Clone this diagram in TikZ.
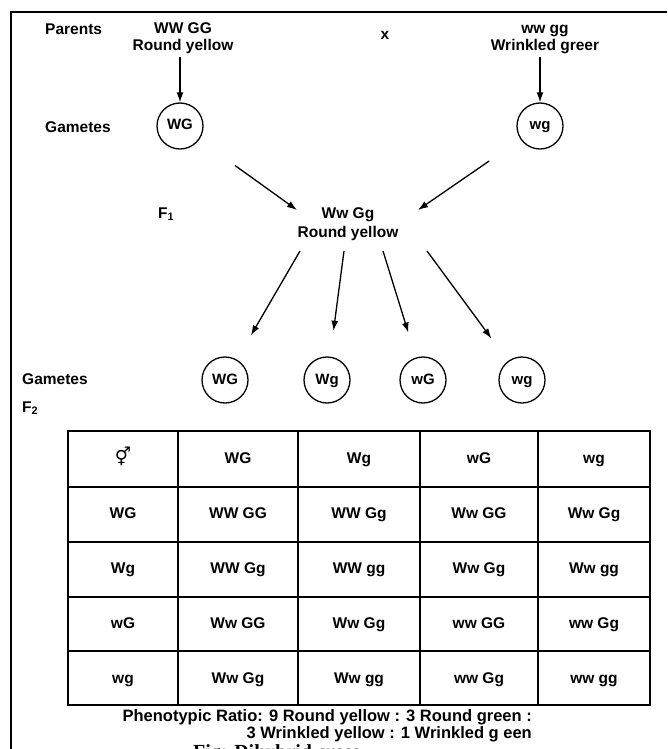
\documentclass[tikz,border=0pt]{standalone}
\usepackage{fontspec}
\setmainfont{Liberation Sans}
\newfontfamily\symfont{DejaVu Sans}
\newfontfamily\capfont{Liberation Serif}
\usetikzlibrary{arrows.meta}

\begin{document}
\begin{tikzpicture}[x=1pt,y=-1pt,
    lbl/.style={inner sep=0pt, text height=11pt, text depth=3pt, font=\bfseries\fontsize{15.5}{18}\selectfont},
    gam/.style={circle, draw=black, line width=1.3pt, minimum size=46pt, inner sep=0pt, text height=11pt, text depth=3pt, font=\bfseries\fontsize{15}{17}\selectfont},
    arr/.style={line width=1.3pt, -{Latex[length=10pt,width=7pt]}},
    cell/.style={inner sep=0pt, text height=11pt, text depth=3pt, font=\bfseries\fontsize{15.5}{18}\selectfont}]
			\useasboundingbox (0,0) rectangle (667,749);
			% frame
			\draw[line width=1.6pt] (11,749) -- (11,12) -- (667,12);
			% parents
			\node[lbl, anchor=west](par) at (45,31){Parents};
			\node[lbl](p1a) at (183,30){WW GG};
			\node[lbl](p1b) at (183,47){Round yellow};
			\node[lbl](cross) at (385,36){x};
			\node[lbl](p2a) at (545,30){ww gg};
			\node[lbl](p2b) at (545,47){Wrinkled greer};
			% gametes of the parents
			\node[lbl, anchor=west](gm1) at (45,128){Gametes};
			\node[gam](gA) at (180,126){WG};
			\node[gam](gB) at (540,126){wg};
			\draw[arr] (p1b.south -| gA) ++(0,3) -- (gA.north);
			\draw[arr] (p2b.south -| gB) ++(0,3) -- (gB.north);
			% F1
			\node[lbl, anchor=west](fone) at (158,214){F$_\mathbf{1}$};
			\node[lbl](f1a) at (348,214){Ww Gg};
			\node[lbl](f1b) at (348,233){Round yellow};
			\coordinate (tA) at (297,210);
			\coordinate (tB) at (418,210);
			\draw[arr, shorten <=44pt] (gA) -- (tA);
			\draw[arr, shorten <=38pt] (gB) -- (tB);
			% gametes of F1
			\node[lbl, anchor=west](gm2) at (22,380){Gametes};
			\node[gam](h1) at (225,380){WG};
			\node[gam](h2) at (327,380){Wg};
			\node[gam](h3) at (423,380){wG};
			\node[gam](h4) at (522,380){wg};
			\coordinate (s1) at (300,251);
			\coordinate (s2) at (344,251);
			\coordinate (s3) at (383,251);
			\coordinate (s4) at (427,251);
			\draw[arr, shorten >=28pt] (s1) -- (h1);
			\draw[arr, shorten >=26pt] (s2) -- (h2);
			\draw[arr, shorten >=26pt] (s3) -- (h3);
			\draw[arr, shorten >=28pt] (s4) -- (h4);
			% F2 checkerboard
			\node[lbl, anchor=west](ftwo) at (22,408){F$_\mathbf{2}$};
			\draw[line width=1.4pt] (68,431) rectangle (650,705);
			\foreach \x in {178,298,420,538}
				\draw[line width=1.4pt] (\x,431) -- (\x,705);
			\foreach \y in {487,542,597,651}
				\draw[line width=1.4pt] (68,\y) -- (650,\y);
			\node[cell, font=\fontsize{18}{20}\selectfont](c00) at (123,459){\symfont ⚥};
			\foreach \t/\cx [count=\i] in {WG/238,Wg/359,wG/479,wg/594}{
				\node[cell](col\i) at (\cx,459){\t};
				\node[cell](row\i) at (123,459+55*\i){\t};
			}
			\foreach \a/\b/\c/\d [count=\j] in {WW GG/WW Gg/Ww GG/Ww Gg,
					WW Gg/WW gg/Ww Gg/Ww gg,
					Ww GG/Ww Gg/ww GG/ww Gg,
					Ww Gg/Ww gg/ww Gg/ww gg}{
				\node[cell](k\j a) at (238,459+55*\j){\a};
				\node[cell](k\j b) at (359,459+55*\j){\b};
				\node[cell](k\j c) at (479,459+55*\j){\c};
				\node[cell](k\j d) at (594,459+55*\j){\d};
			}
			% ratio
			\node[lbl, anchor=east, font=\bfseries\fontsize{16.5}{18}\selectfont](rat1) at (532,717){Phenotypic Ratio: 9 Round yellow : 3 Round green :};
			\node[lbl, anchor=east, font=\bfseries\fontsize{16.5}{18}\selectfont](rat2) at (532,734){3 Wrinkled yellow : 1 Wrinkled g een};
			\node[inner sep=0pt, anchor=north west, font=\capfont\bfseries\fontsize{20}{22}\selectfont](fig) at (193,744){Fig: Dihybrid cross};
\end{tikzpicture}
\end{document}
